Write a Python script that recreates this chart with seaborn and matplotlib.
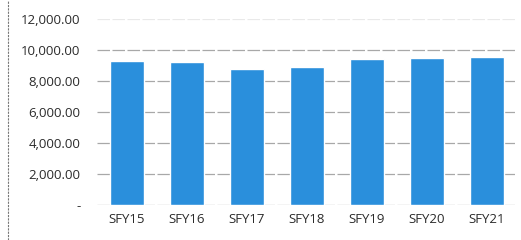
import pandas as pd
import seaborn as sns
import matplotlib.pyplot as plt
import matplotlib.ticker as mticker

years = ["SFY15", "SFY16", "SFY17", "SFY18", "SFY19", "SFY20", "SFY21"]
values = [9300, 9220, 8790, 8930, 9410, 9500, 9580]
y_ticks = [0, 2000, 4000, 6000, 8000, 10000, 12000]

df = pd.DataFrame({"year": years, "value": values})

sns.set_theme(style="white")
plt.rcParams["font.family"] = ["Open Sans", "DejaVu Sans"]

fig = plt.figure(figsize=(5.21, 2.40), dpi=100)
ax = fig.add_axes([0.186, 0.146, 0.806, 0.774])

sns.barplot(df, x="year", y="value", color="#2a8fdc", saturation=1,
            width=0.57, ax=ax, zorder=2)

ax.set_ylim(0, 12000)
ax.set_yticks(y_ticks)
ax.yaxis.set_major_formatter(
    mticker.FuncFormatter(lambda v, p: "-" if v == 0 else f"{v:,.2f}"))
ax.grid(axis="y", color="#a8a8a8", linewidth=0.9, linestyle=(0, (10, 2)), zorder=0)
ax.set_axisbelow(True)
# top gridline barely shows in the scan
ax.get_ygridlines()[-1].set_alpha(0.25)
for s in ax.spines.values():
    s.set_visible(False)
ax.set_xlabel("")
ax.set_ylabel("")
ax.tick_params(axis="both", length=0, labelsize=9.5, colors="#2b2b2b")
ax.tick_params(axis="y", pad=12)
ax.tick_params(axis="x", pad=6)

# left border of the scanned chart box
fig.add_artist(plt.Line2D([0.016, 0.016], [0.0, 1.0], color="#777777",
                          linewidth=0.8, linestyle=(0, (2, 1))))

fig.savefig("out.png", dpi=100)
